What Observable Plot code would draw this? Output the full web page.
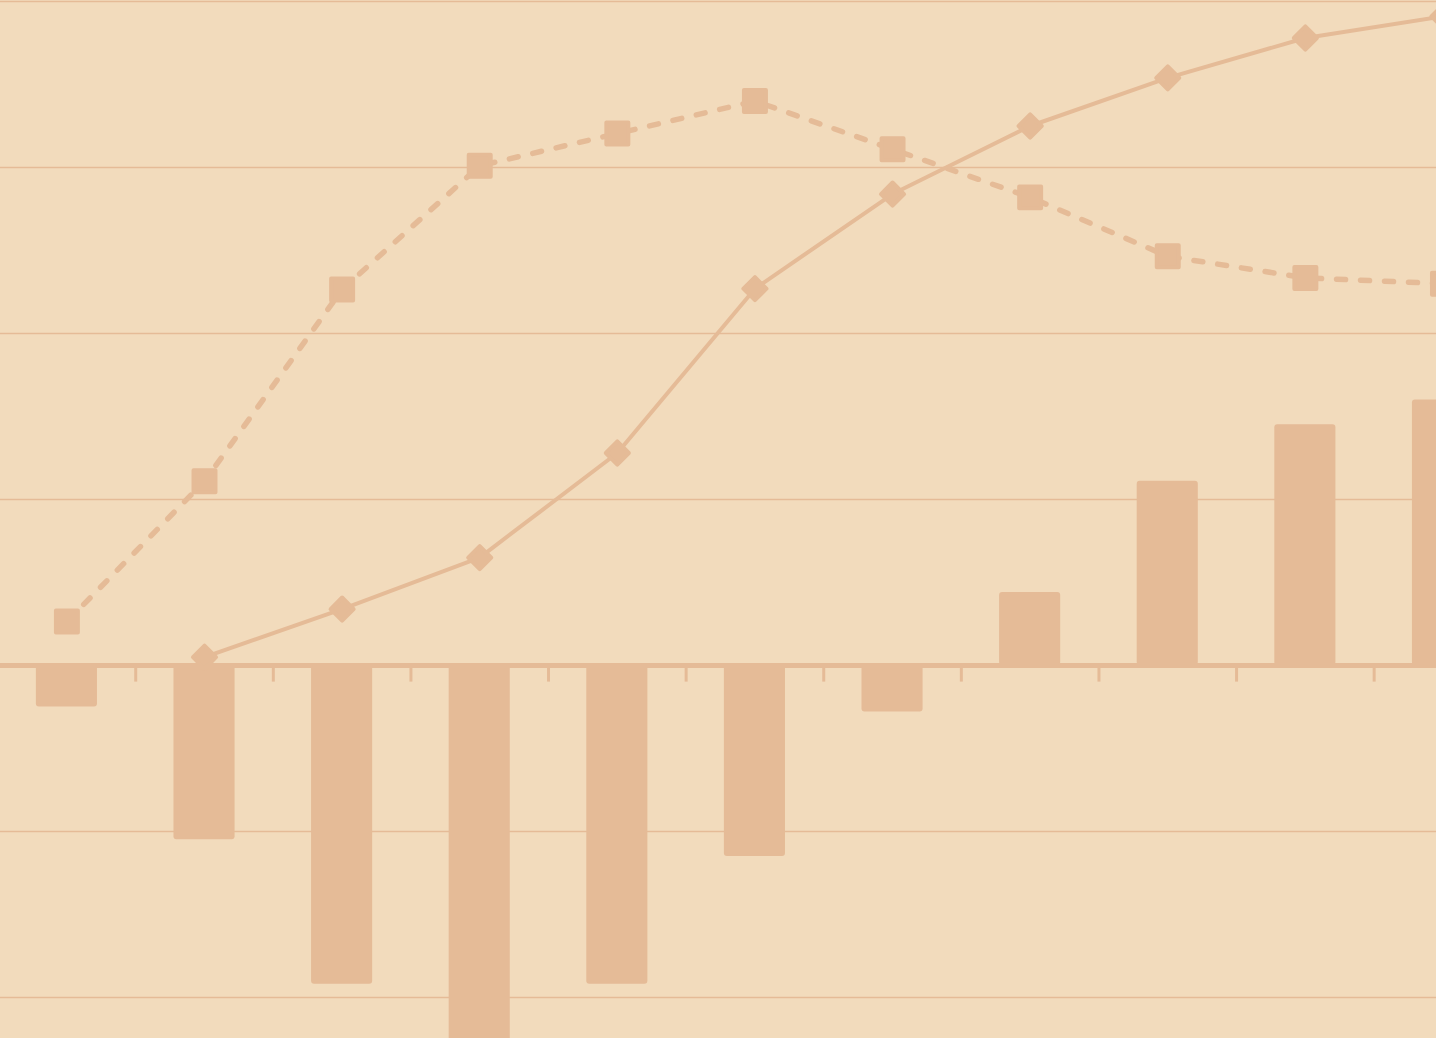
<!DOCTYPE html>
<html>
<head>
<meta charset="utf-8">
<script src="https://cdn.jsdelivr.net/npm/d3@7"></script>
<script src="https://cdn.jsdelivr.net/npm/@observablehq/plot@0.6"></script>
<style>
  html, body { margin: 0; padding: 0; background: #F2DBBC; overflow: hidden; }
  #chart svg { display: block; }
</style>
</head>
<body>
<div id="chart"></div>
<script>
// Categories (index positions)
const categories = [0, 1, 2, 3, 4, 5, 6, 7, 8, 9, 10];
// Bar series
const barValues = [-0.25, -1.05, -1.92, -2.45, -1.92, -1.15, -0.28, 0.44, 1.11, 1.45, 1.60];
// Solid line with diamonds (starts at index 1)
const solidIdx = [1, 2, 3, 4, 5, 6, 7, 8, 9, 10];
const solidValues = [0.05, 0.34, 0.65, 1.28, 2.27, 2.84, 3.25, 3.54, 3.78, 3.91];
// Dotted line with squares
const dottedValues = [0.265, 1.11, 2.265, 3.01, 3.205, 3.40, 3.11, 2.82, 2.465, 2.335, 2.30];
// Grid lines
const gridValues = [-2, -1, 1, 2, 3, 4];
// Tick positions (band boundaries)
const tickPositions = [-0.5, 0.5, 1.5, 2.5, 3.5, 4.5, 5.5, 6.5, 7.5, 8.5, 9.5];

const bg = "#F2DBBC";
const ink = "#E5BB97";

const bars = categories.map((c, k) => ({i: c, v: barValues[k]}));
const solid = solidIdx.map((c, k) => ({i: c, v: solidValues[k]}));
const dotted = categories.map((c, k) => ({i: c, v: dottedValues[k]}));

const chart = Plot.plot({
  width: 1436,
  height: 1038,
  margin: 0,
  style: {background: bg, overflow: "hidden"},
  x: {type: "linear", domain: [-0.4826, 9.953], range: [0, 1436], axis: null},
  y: {type: "linear", domain: [-2.247, 4.006], range: [1038, 0], axis: null},
  marks: [
    Plot.ruleY(gridValues, {stroke: ink, strokeWidth: 1.5}),
    Plot.rect(bars, {x1: d => d.i - 0.222, x2: d => d.i + 0.222, y1: 0, y2: "v", fill: ink, rx: 3}),
    Plot.ruleX(tickPositions, {y1: 0, y2: -0.1, stroke: ink, strokeWidth: 3}),
    Plot.ruleY([0], {stroke: ink, strokeWidth: 5}),
    Plot.line(dotted, {x: "i", y: "v", stroke: ink, strokeWidth: 5.5, strokeDasharray: "9,15"}),
    Plot.dot(dotted, {x: "i", y: "v", symbol: "square", r: 12.4, fill: ink, stroke: ink, strokeWidth: 4, strokeLinejoin: "round"}),
    Plot.line(solid, {x: "i", y: "v", stroke: ink, strokeWidth: 4}),
    Plot.dot(solid, {x: "i", y: "v", symbol: "square", rotate: 45, r: 9.2, fill: ink, stroke: ink, strokeWidth: 4, strokeLinejoin: "round"})
  ]
});
document.getElementById("chart").appendChild(chart);
</script>
</body>
</html>
